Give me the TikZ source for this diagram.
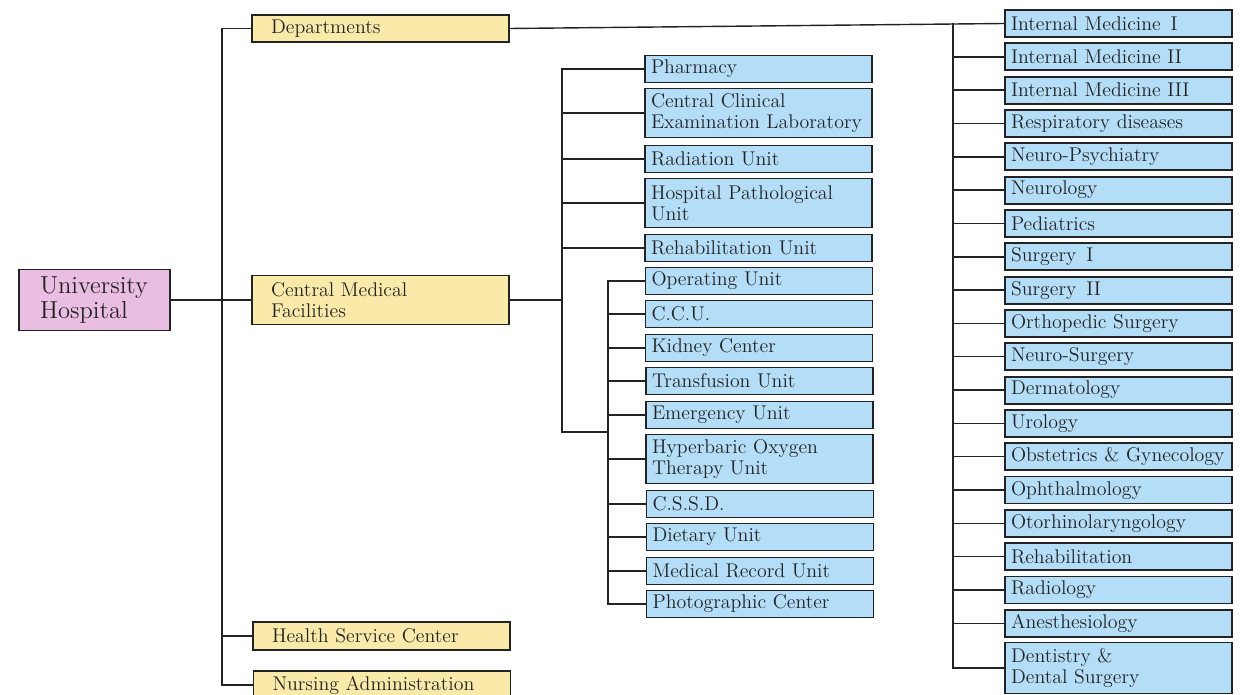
\documentclass[tikz,border=0pt]{standalone}
\usepackage{fontspec}
\usetikzlibrary{calc}
\definecolor{hosppink}{RGB}{234,190,226}
\definecolor{unityellow}{RGB}{250,234,170}
\definecolor{deptblue}{RGB}{180,222,247}
\definecolor{inkdark}{RGB}{35,35,35}
\tikzset{
  basebox/.style={rectangle, draw=inkdark, line width=1pt, align=left,
    inner ysep=1pt, text=inkdark, font=\fontsize{11.3}{12}\selectfont},
  rootbox/.style={basebox, fill=hosppink, text width=2.18cm, inner xsep=0.42cm,
    minimum height=1.22cm, font=\fontsize{14}{14.5}\selectfont},
  unitbox/.style={basebox, fill=unityellow, text width=4.38cm, inner xsep=0.38cm,
    minimum height=0.55cm},
  subbox/.style={basebox, fill=deptblue, text width=4.30cm, inner xsep=0.12cm,
    minimum height=0.54cm},
  tallbox/.style={minimum height=0.98cm},
  link/.style={line width=0.8pt, draw=inkdark}
}
\begin{document}
\begin{tikzpicture}[x=0.02cm, y=-0.02cm]
  \useasboundingbox (0,0) rectangle (1245,695);
  \clip (0,0) rectangle (1245,695);

  % root and the four main branches
  \node[rootbox] (uh) at (94.5,300) {University\\Hospital};
  \node[unitbox] (dept) at (380.5,28.5) {Departments};
  \node[unitbox, tallbox] (cmf) at (380.5,300) {Central Medical\\Facilities};
  \node[unitbox] (hsc) at (381.5,636) {Health Service Center};
  \node[unitbox] (nurse) at (382,685) {Nursing Administration};

  \coordinate (hub) at (222,300);
  \draw[link] (uh) -- (cmf);
  \draw[link] (dept.west) -| (hub) |- (nurse.west);
  \draw[link] (hub) |- (hsc.west);

  % central medical facilities
  \node[subbox] (pharm) at (758.5,69) {Pharmacy};
  \node[subbox, tallbox] (ccel) at (758.5,113) {Central Clinical\\Examination Laboratory};
  \node[subbox] (rad) at (758.5,159) {Radiation Unit};
  \node[subbox, tallbox] (hpu) at (758.5,203) {Hospital Pathological\\Unit};
  \node[subbox] (rehu) at (758.5,248) {Rehabilitation Unit};
  \node[subbox] (oper) at (759,281) {Operating Unit};
  \node[subbox] (ccu) at (759,314) {C.C.U.};
  \node[subbox] (kidney) at (759,348) {Kidney Center};
  \node[subbox] (transf) at (759.5,381) {Transfusion Unit};
  \node[subbox] (emerg) at (759.5,415) {Emergency Unit};
  \node[subbox, tallbox] (hyper) at (759.5,459) {Hyperbaric Oxygen\\Therapy Unit};
  \node[subbox] (cssd) at (760,504) {C.S.S.D.};
  \node[subbox] (diet) at (760,537) {Dietary Unit};
  \node[subbox] (medrec) at (760,571) {Medical Record Unit};
  \node[subbox] (photo) at (760,604) {Photographic Center};

  \coordinate (j1) at (562,432);
  \coordinate (j2) at (608,432);
  \draw[link] (cmf.east) -- (cmf.east -| j1);
  \draw[link] (pharm.west) -| (j1) -- (j2);
  \foreach \name in {ccel,rad,hpu,rehu}
    \draw[link] (\name.west) -- (\name.west -| j1);
  \draw[link] (oper.west) -| (j2) |- (photo.west);
  \foreach \name in {ccu,kidney,transf,emerg,hyper,cssd,diet,medrec}
    \draw[link] (\name.west) -- (\name.west -| j2);

  % departments
  \foreach \name/\txt [count=\i from 0] in {
      im1/Internal Medicine\enspace I, im2/Internal Medicine II,
      im3/Internal Medicine III, resp/Respiratory diseases,
      neurops/Neuro-Psychiatry, neuro/Neurology, ped/Pediatrics,
      surg1/Surgery\enspace I, surg2/Surgery\enspace II,
      ortho/Orthopedic Surgery, neurosurg/Neuro-Surgery,
      derm/Dermatology, uro/Urology, obgyn/Obstetrics \& Gynecology,
      ophth/Ophthalmology, ent/Otorhinolaryngology,
      rehab/Rehabilitation, radio/Radiology, anes/Anesthesiology}
    \node[subbox] (\name) at (1118.5,{23.5+33.33*\i}) {\txt};
  \node[subbox, minimum height=1.02cm] (dent) at (1118.5,668) {Dentistry \&\\Dental Surgery};

  \coordinate (dj) at (953,668);
  \draw[link] (dept.east) -- (im1.west);
  \draw[link] (im1.west -| dj) |- (dent.west);
  \foreach \name in {im2,im3,resp,neurops,neuro,ped,surg1,surg2,ortho,
      neurosurg,derm,uro,obgyn,ophth,ent,rehab,radio,anes}
    \draw[link] (\name.west) -- (\name.west -| dj);
\end{tikzpicture}
\end{document}
